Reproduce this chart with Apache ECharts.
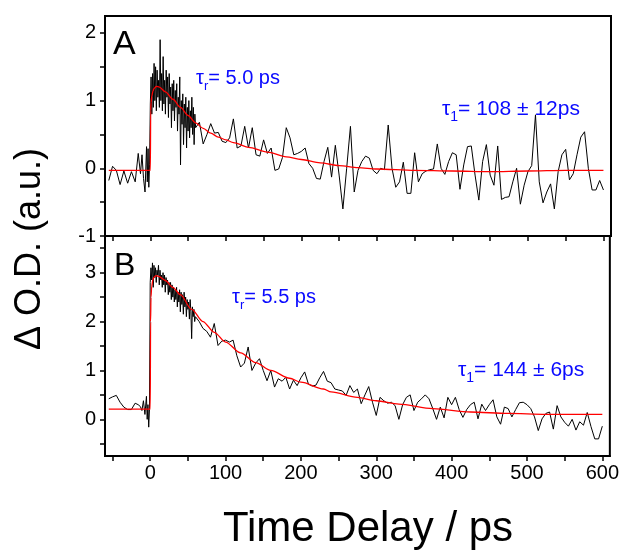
<!DOCTYPE html>
<html><head><meta charset="utf-8">
<script src="https://cdn.jsdelivr.net/npm/echarts@6/dist/echarts.min.js"></script>
<style>html,body{margin:0;padding:0;background:#fff}#c{width:622px;height:553px}</style>
</head><body><div id="c"></div>
<script>
// ---- time grid (ps) ----
const preTimes = [-55,-50,-45,-40,-35,-30,-25,-20,-16,-13,-11,-9,-7,-5,-4,-3,-2,-1];
const denseTimes = [0,1,2,3,4,5,6,7,8,9,10,11,12,13,14,15,16,17,18,19,20,21,22,23,24,25,26,27,28,29,30,31,32,33,34,35,36,37,38,39,40,41,42,43,44,45,46,47,48,49,50,51,52,53,54,55,56,57,58,59,60];
const sparseTimes = [65,70,75,80,85,90,95,100,105,110,115,120,125,130,135,140,145,150,155,160,165,170,175,180,185,190,195,200,205,210,215,220,225,230,235,240,245,250,255,260,265,270,275,280,285,290,295,300,305,310,315,320,325,330,335,340,345,350,355,360,365,370,375,380,385,390,395,400,405,410,415,420,425,430,435,440,445,450,455,460,465,470,475,480,485,490,495,500,505,510,515,520,525,530,535,540,545,550,555,560,565,570,575,580,585,590,595,600];

// ---- panel A data ----
const preA = [-0.18,0.03,-0.03,-0.24,-0.04,-0.22,-0.05,-0.2,0.22,-0.08,0.2,-0.15,-0.35,0.32,-0.2,0.29,-0.28,0.05];
const denseA = [0.95,1.35,0.8,1.4,0.9,1.55,1.0,1.5,0.85,1.45,1.05,1.3,0.9,1.9,1.0,1.4,0.85,1.65,0.95,1.3,0.8,1.45,1.05,1.35,0.75,1.4,0.95,1.2,0.6,1.25,0.85,1.3,0.7,1.15,0.9,1.25,0.55,1.05,0.8,1.35,0.05,1.0,0.65,1.1,0.35,0.95,0.6,1.05,0.3,0.9,0.55,1.0,0.45,0.85,0.6,1.05,0.5,0.9,0.35,0.8,0.6];
const sparseA = [0.68,0.36,0.5,0.66,0.52,0.53,0.4,0.38,0.45,0.73,0.3,0.33,0.62,0.3,0.6,0.2,0.18,0.42,0.22,0.3,-0.03,-0.01,0.16,0.6,0.45,0.2,0.22,0.25,0.3,0.07,0.0,-0.15,-0.16,0.1,0.31,-0.13,0.34,-0.1,-0.6,0.0,0.62,-0.35,-0.03,0.1,0.18,0.15,-0.03,-0.08,0.0,-0.02,0.64,0.0,-0.28,-0.2,0.09,-0.37,-0.37,0.23,-0.2,-0.08,-0.04,-0.02,-0.01,0.36,0.0,-0.09,0.1,0.23,0.2,-0.31,0.05,0.32,0.33,-0.1,-0.47,0.1,0.35,-0.1,-0.25,0.33,-0.46,-0.43,-0.42,-0.2,0.0,-0.53,-0.25,-0.05,0.04,0.79,-0.2,-0.51,-0.35,-0.23,-0.6,-0.05,0.2,0.28,-0.17,-0.08,0.2,0.46,0.54,0.0,-0.32,-0.32,-0.18,-0.32];
const fitTimesA = [-55,0,0.5,1,2,3.5,5,8,12,20,30,40,50,60,70,80,90,100,110,130,155,180,200,225,250,275,300,350,400,450,500,550,600];
const fitA = [-0.03,-0.03,0.85,0.97,1.07,1.14,1.18,1.21,1.2,1.13,1.02,0.9,0.78,0.67,0.59,0.52,0.46,0.42,0.38,0.31,0.24,0.17,0.13,0.08,0.04,0.01,-0.01,-0.03,-0.04,-0.05,-0.04,-0.03,-0.03];

// ---- panel B data ----
const preB = [0.42,0.46,0.49,0.35,0.25,0.2,0.2,0.33,0.3,0.26,0.18,0.38,0.1,0.47,0.0,0.3,-0.16,0.2];
const denseB = [2.8,3.1,2.85,3.2,2.7,3.15,2.9,3.1,2.8,3.05,2.95,3.15,2.75,3.05,2.85,2.95,2.7,3.0,2.75,2.95,2.6,2.9,2.75,2.85,2.55,2.8,2.6,2.8,2.45,2.75,2.5,2.7,2.4,2.65,2.45,2.7,2.3,2.6,2.4,2.65,2.2,2.6,2.35,2.55,2.15,2.6,2.3,2.5,2.1,2.45,2.25,2.4,2.05,2.45,2.2,1.65,2.3,2.1,2.25,2.0,2.1];
const sparseB = [2.0,1.86,1.8,1.68,1.96,1.51,1.6,1.62,1.58,1.62,1.3,1.07,1.15,1.48,1.0,1.15,1.24,1.0,0.79,1.0,0.66,0.83,0.78,0.86,0.62,0.8,0.69,0.85,0.97,0.72,0.68,0.7,0.85,0.98,0.78,0.75,0.62,0.6,0.58,0.49,0.69,0.55,0.62,0.32,0.5,0.67,0.35,0.08,0.45,0.38,0.33,0.35,0.28,0.0,0.3,0.45,0.5,0.18,0.35,0.42,0.5,0.42,0.22,0.0,0.25,0.03,0.45,0.3,0.45,0.2,0.04,0.2,0.3,0.35,0.01,0.31,0.18,0.3,0.4,0.05,-0.1,0.25,0.22,0.05,0.2,0.34,0.35,0.3,0.22,0.05,-0.23,0.01,0.12,0.15,-0.2,0.28,0.05,-0.06,-0.14,0.0,-0.22,-0.05,-0.12,0.14,-0.15,-0.4,-0.4,-0.14];
const fitTimesB = [-55,0,0.5,1,2,3.5,5,8,12,20,30,40,55,70,85,100,120,140,160,185,200,230,240,275,300,330,375,425,475,525,600];
const fitB = [0.21,0.21,2.0,2.5,2.72,2.85,2.91,2.94,2.92,2.84,2.7,2.55,2.25,2.0,1.78,1.58,1.36,1.16,1.0,0.84,0.76,0.62,0.56,0.45,0.38,0.31,0.22,0.15,0.12,0.1,0.1];

// ---- axis ticks / labels ----
const xTickValues = [-50,0,50,100,150,200,250,300,350,400,450,500,550,600];
const xLabelValues = [0,100,200,300,400,500,600];
const yTicksA = [-1,-0.5,0,0.5,1,1.5,2];
const yLabelsA = [-1,0,1,2];
const yTicksB = [-0.5,0,0.5,1,1.5,2,2.5,3,3.5];
const yLabelsB = [0,1,2,3];

const times = preTimes.concat(denseTimes, sparseTimes);
const zip = (t, v) => t.map((x, i) => [x, v[i]]);
const traceA = zip(times, preA.concat(denseA, sparseA));
const traceB = zip(times, preB.concat(denseB, sparseB));

const FONT = 'Liberation Sans, Arial, sans-serif';
const BLUE = '#0a0aff';
const axisLineS = {show:true, onZero:false, lineStyle:{color:'#000', width:2}};
function xAxis(idx, showLabels){
  return {type:'value', gridIndex:idx, min:-60, max:610,
    axisLine:axisLineS,
    axisTick:{show:true, inside:false, length:5, customValues:xTickValues, lineStyle:{color:'#000', width:1.5}},
    axisLabel:{show:showLabels, customValues:xLabelValues, fontSize:20, color:'#000', fontFamily:FONT, margin:7},
    splitLine:{show:false}};
}
function yAxis(idx, min, max, ticks, labels){
  return {type:'value', gridIndex:idx, min:min, max:max,
    axisLine:axisLineS,
    axisTick:{show:true, inside:false, length:5, customValues:ticks, lineStyle:{color:'#000', width:1.5}},
    axisLabel:{show:true, customValues:labels, fontSize:20, color:'#000', fontFamily:FONT, margin:9},
    splitLine:{show:false}};
}
function annot(x, y, sub, rest, fs){
  return {type:'text', x:x, y:y, z:100,
    style:{text:'{t|τ}{s|'+sub+'}{t|'+rest+'}', fill:BLUE, verticalAlign:'middle', align:'left',
      rich:{t:{fontSize:fs, fontFamily:FONT, fill:BLUE},
            s:{fontSize:Math.round(fs*0.65), fontFamily:FONT, fill:BLUE, padding:[Math.round(fs*0.8),0,0,0]}}}};
}

const chart = echarts.init(document.getElementById('c'), null, {renderer:'canvas'});
chart.setOption({
  animation:false,
  backgroundColor:'#fff',
  grid:[
    {left:105, top:16, width:506, height:220, show:true, borderColor:'#000', borderWidth:2, backgroundColor:'transparent'},
    {left:105, top:236, width:506, height:220, show:true, borderColor:'#000', borderWidth:2, backgroundColor:'transparent'}
  ],
  xAxis:[xAxis(0,false), xAxis(1,true)],
  yAxis:[yAxis(0,-1,2.25,yTicksA,yLabelsA), yAxis(1,-0.75,3.75,yTicksB,yLabelsB)],
  series:[
    {type:'line', xAxisIndex:0, yAxisIndex:0, data:traceA, showSymbol:false, lineStyle:{color:'#000', width:1}, z:2},
    {type:'line', xAxisIndex:0, yAxisIndex:0, data:zip(fitTimesA, fitA), showSymbol:false, smooth:0.3, smoothMonotone:'x', lineStyle:{color:'#ff0000', width:1.3}, z:3},
    {type:'line', xAxisIndex:1, yAxisIndex:1, data:traceB, showSymbol:false, lineStyle:{color:'#000', width:1}, z:2},
    {type:'line', xAxisIndex:1, yAxisIndex:1, data:zip(fitTimesB, fitB), showSymbol:false, smooth:0.3, smoothMonotone:'x', lineStyle:{color:'#ff0000', width:1.3}, z:3}
  ],
  graphic:[
    {type:'text', x:113, y:45, style:{text:'A', fontSize:34, fontFamily:FONT, fill:'#000', verticalAlign:'middle'}},
    {type:'text', x:114, y:266, style:{text:'B', fontSize:32, fontFamily:FONT, fill:'#000', verticalAlign:'middle'}},
    annot(196, 78, 'r', '= 5.0 ps', 20),
    annot(442, 109, '1', '= 108 ± 12ps', 21),
    annot(232, 297, 'r', '= 5.5 ps', 20),
    annot(458, 370, '1', '= 144 ± 6ps', 21),
    {type:'text', x:30, y:249, rotation:Math.PI/2, style:{text:'Δ O.D. (a.u.)', fontSize:36, fontFamily:FONT, fill:'#000', align:'center', verticalAlign:'middle'}},
    {type:'text', x:368, y:529, style:{text:'Time Delay / ps', fontSize:42, fontFamily:FONT, fill:'#000', align:'center', verticalAlign:'middle'}}
  ]
});
</script></body></html>
